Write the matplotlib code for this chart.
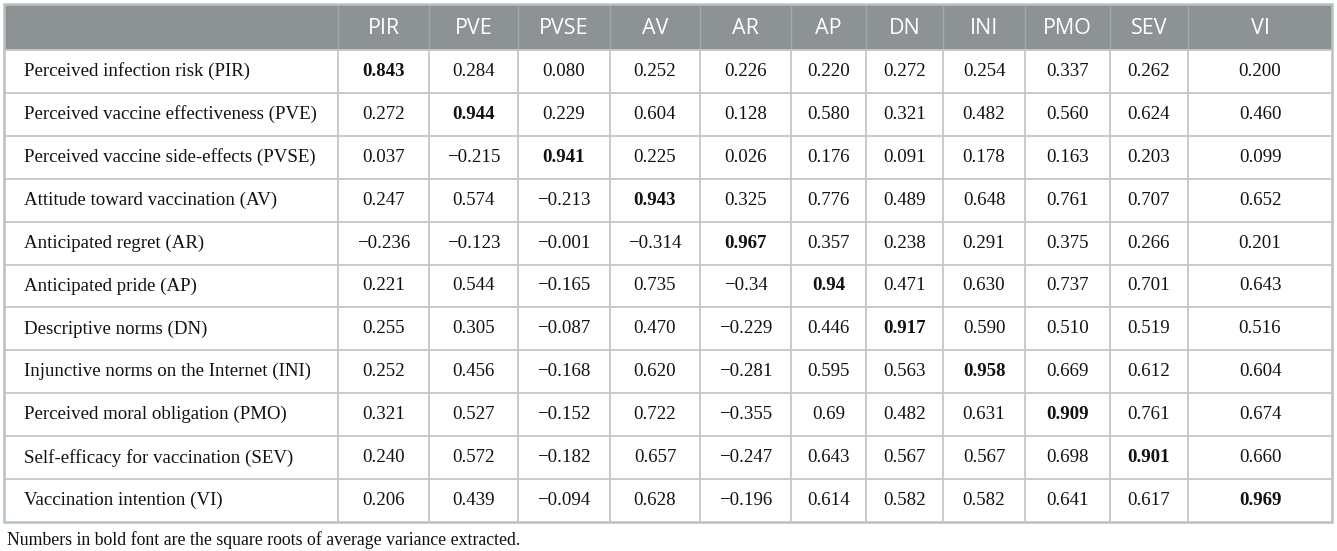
import matplotlib
matplotlib.use("Agg")
import matplotlib.pyplot as plt
from matplotlib.patches import Rectangle

# column headers and row labels
colLabels = ["PIR", "PVE", "PVSE", "AV", "AR", "AP", "DN", "INI", "PMO", "SEV", "VI"]
rowLabels = [
    "Perceived infection risk (PIR)",
    "Perceived vaccine effectiveness (PVE)",
    "Perceived vaccine side-effects (PVSE)",
    "Attitude toward vaccination (AV)",
    "Anticipated regret (AR)",
    "Anticipated pride (AP)",
    "Descriptive norms (DN)",
    "Injunctive norms on the Internet (INI)",
    "Perceived moral obligation (PMO)",
    "Self-efficacy for vaccination (SEV)",
    "Vaccination intention (VI)",
]

# table values (kept as printed, bold ones are on the diagonal)
rowPIR = ["0.843", "0.284", "0.080", "0.252", "0.226", "0.220", "0.272", "0.254", "0.337", "0.262", "0.200"]
rowPVE = ["0.272", "0.944", "0.229", "0.604", "0.128", "0.580", "0.321", "0.482", "0.560", "0.624", "0.460"]
rowPVSE = ["0.037", "\u22120.215", "0.941", "0.225", "0.026", "0.176", "0.091", "0.178", "0.163", "0.203", "0.099"]
rowAV = ["0.247", "0.574", "\u22120.213", "0.943", "0.325", "0.776", "0.489", "0.648", "0.761", "0.707", "0.652"]
rowAR = ["\u22120.236", "\u22120.123", "\u22120.001", "\u22120.314", "0.967", "0.357", "0.238", "0.291", "0.375", "0.266", "0.201"]
rowAP = ["0.221", "0.544", "\u22120.165", "0.735", "\u22120.34", "0.94", "0.471", "0.630", "0.737", "0.701", "0.643"]
rowDN = ["0.255", "0.305", "\u22120.087", "0.470", "\u22120.229", "0.446", "0.917", "0.590", "0.510", "0.519", "0.516"]
rowINI = ["0.252", "0.456", "\u22120.168", "0.620", "\u22120.281", "0.595", "0.563", "0.958", "0.669", "0.612", "0.604"]
rowPMO = ["0.321", "0.527", "\u22120.152", "0.722", "\u22120.355", "0.69", "0.482", "0.631", "0.909", "0.761", "0.674"]
rowSEV = ["0.240", "0.572", "\u22120.182", "0.657", "\u22120.247", "0.643", "0.567", "0.567", "0.698", "0.901", "0.660"]
rowVI = ["0.206", "0.439", "\u22120.094", "0.628", "\u22120.196", "0.614", "0.582", "0.582", "0.641", "0.617", "0.969"]
tableData = [rowPIR, rowPVE, rowPVSE, rowAV, rowAR, rowAP, rowDN, rowINI, rowPMO, rowSEV, rowVI]

footnote = "Numbers in bold font are the square roots of average variance extracted."

# layout in pixels
W, H = 1337, 551
colEdges = [4, 338, 429, 518, 610, 700, 791, 866, 943, 1025, 1110, 1188, 1332]
top = 4
headBottom = 50
rowH = (522 - headBottom) / len(rowLabels)

headColor = "#8d9295"
gridColor = "#c6c6c6"
borderColor = "#b7c3bf"
textColor = "#111111"

fig = plt.figure(figsize=(W / 100, H / 100), dpi=100)
ax = fig.add_axes([0, 0, 1, 1])
ax.set_xlim(0, W)
ax.set_ylim(H, 0)
ax.axis("off")

#header band
ax.add_patch(Rectangle((colEdges[0], top), colEdges[-1] - colEdges[0], headBottom - top,
                       facecolor=headColor, edgecolor="none"))
for x in colEdges[1:-1]:
    ax.plot([x, x], [top + 2, headBottom], color="#a3a8ab", lw=1)
for j, lab in enumerate(colLabels):
    cx = (colEdges[j + 1] + colEdges[j + 2]) / 2
    ax.text(cx, (top + headBottom) / 2 + 1, lab, ha="center", va="center",
            color="white", fontsize=15.5, family="Open Sans")

# body grid
bottom = headBottom + rowH * len(rowLabels)
for i in range(1, len(rowLabels)):
    y = headBottom + rowH * i
    ax.plot([colEdges[0], colEdges[-1]], [y, y], color=gridColor, lw=1.3)
for x in colEdges[1:-1]:
    ax.plot([x, x], [headBottom, bottom], color=gridColor, lw=1.3)
ax.plot([colEdges[0], colEdges[-1]], [headBottom, headBottom], color=gridColor, lw=1.3)

# body text
for i, lab in enumerate(rowLabels):
    cy = headBottom + rowH * (i + 0.5)
    ax.text(colEdges[0] + 20, cy, lab, ha="left", va="center",
            fontsize=13.6, family="Liberation Serif", color=textColor)
    for j, val in enumerate(tableData[i]):
        cx = (colEdges[j + 1] + colEdges[j + 2]) / 2
        ax.text(cx, cy, val, ha="center", va="center", fontsize=13.6,
                family="Liberation Serif", color=textColor,
                fontweight="bold" if i == j else "normal")

# outer border
ax.add_patch(Rectangle((colEdges[0], top), colEdges[-1] - colEdges[0], bottom - top,
                       facecolor="none", edgecolor=borderColor, lw=1.8))

ax.text(colEdges[0] + 3, 540, footnote, ha="left", va="center", fontsize=12.8,
        family="Liberation Serif", color=textColor)

fig.savefig("out.png", dpi=100)
